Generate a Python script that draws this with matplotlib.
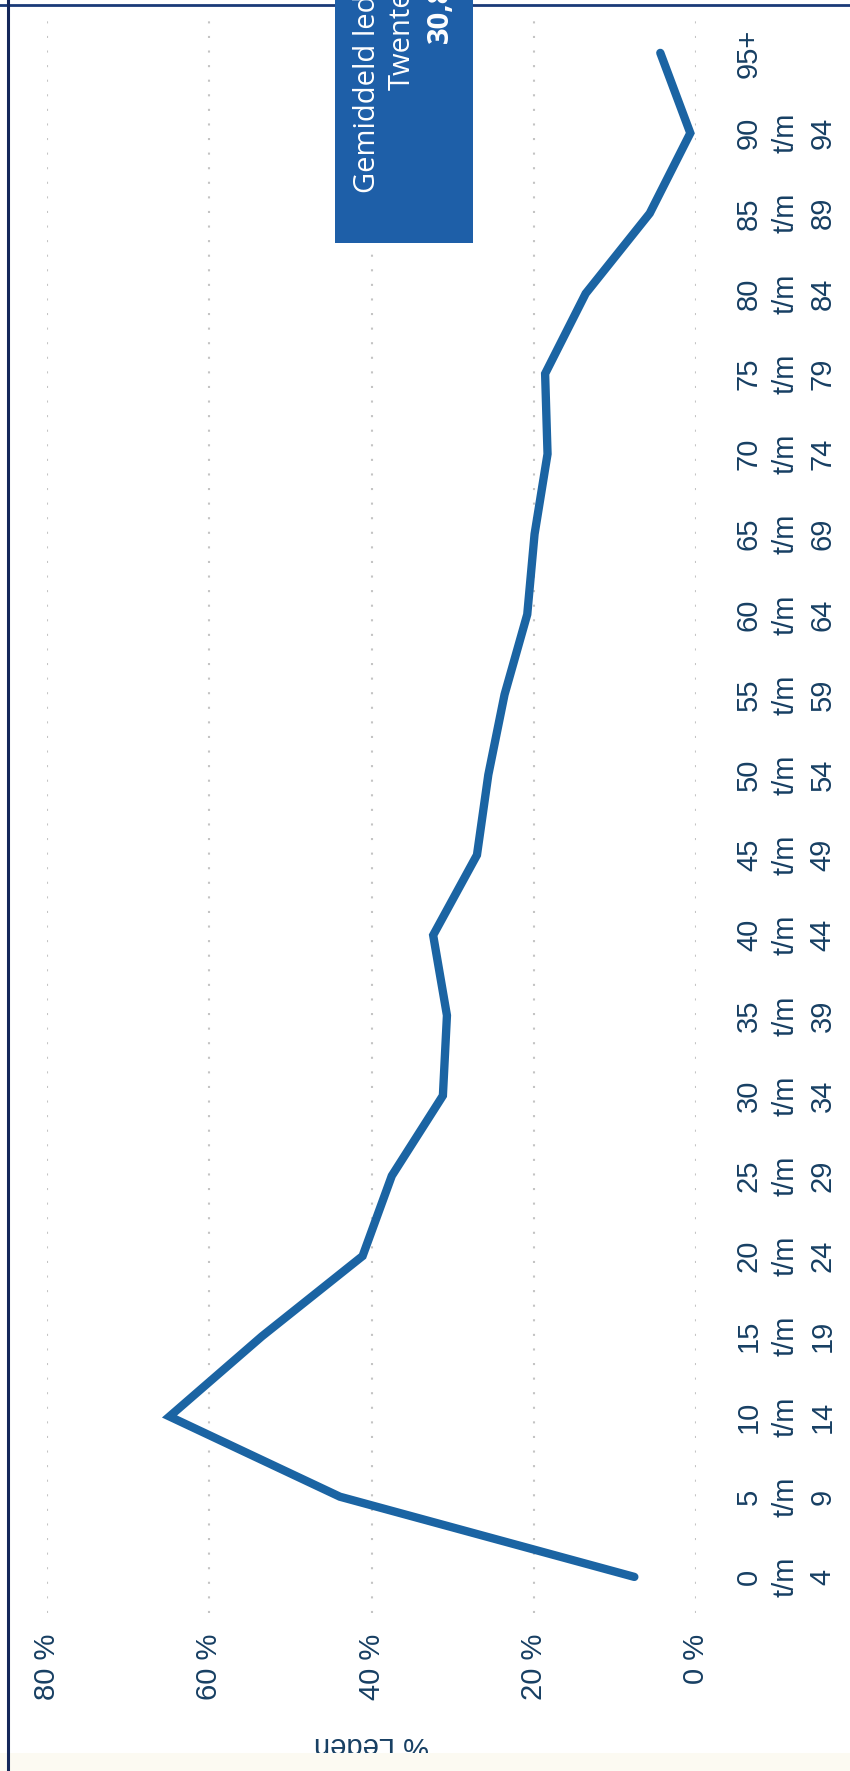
import numpy as np
import matplotlib
matplotlib.use("Agg")
import matplotlib.pyplot as plt
from matplotlib.patches import Rectangle
from matplotlib.lines import Line2D

groepen = ["0\nt/m\n4", "5\nt/m\n9", "10\nt/m\n14", "15\nt/m\n19", "20\nt/m\n24",
           "25\nt/m\n29", "30\nt/m\n34", "35\nt/m\n39", "40\nt/m\n44", "45\nt/m\n49",
           "50\nt/m\n54", "55\nt/m\n59", "60\nt/m\n64", "65\nt/m\n69", "70\nt/m\n74",
           "75\nt/m\n79", "80\nt/m\n84", "85\nt/m\n89", "90\nt/m\n94", "95+"]
leden_pct = [7.6, 43.9, 64.9, 53.5, 41.1, 37.5, 31.2, 30.7, 32.4, 27.0,
             25.6, 23.6, 20.8, 19.9, 18.3, 18.6, 13.6, 5.7, 0.7, 4.4]
pct_ticks = [0, 20, 40, 60, 80]
pct_labels = ["0 %", "20 %", "40 %", "60 %", "80 %"]
box_lines = ["Gemiddeld ledenpercentage", "Twente", "30,8%"]

W, H = 850, 1771
plt.rcParams["font.family"] = ["Liberation Sans", "DejaVu Sans"]
fig = plt.figure(figsize=(W / 100, H / 100), dpi=100)
fig.patch.set_facecolor("white")

tekst = "#173f63"
lijn = "#1b64a3"

# grafiek is een kwartslag gedraaid
ax = fig.add_axes([47 / W, (H - 1613) / H, (696 - 47) / W, (1613 - 20) / H])
pos = np.arange(len(groepen))
ax.plot(leden_pct, pos, color=lijn, lw=6, solid_capstyle="round", solid_joinstyle="miter")

ax.set_xlim(80, 0)
ax.set_ylim(-0.45, 19.41)
for s in ax.spines.values():
    s.set_visible(False)

ax.set_xticks(pct_ticks)
ax.set_xticklabels(pct_labels, rotation=90, fontsize=21, color=tekst)
ax.tick_params(axis="x", length=0, pad=15)

ax.yaxis.tick_right()
ax.set_yticks(pos)
ax.set_yticklabels(groepen, rotation=90, fontsize=21, color=tekst, va="center",
                   multialignment="center", linespacing=1.4)
ax.tick_params(axis="y", length=0, pad=28)

ax.grid(axis="x", color="#c4c4c4", lw=1.5, linestyle=(0, (1, 6)))
ax.set_axisbelow(True)

ax.set_xlabel("% Leden", rotation=180, fontsize=21, color=tekst, labelpad=22)

# blauw kader met gemiddelde (bovenaan afgesneden, net als in de scan)
fig.patches.append(Rectangle((335 / W, (H - 243) / H), 138 / W, 260 / H,
                             transform=fig.transFigure, facecolor="#1e5fa8",
                             edgecolor="none", zorder=5))
starts = [(368, 193, "normal"), (402, 90, "normal"), (440, 43, "bold")]
for (x, y, w), t in zip(starts, box_lines):
    fig.text(x / W, (H - y) / H, t, rotation=90, rotation_mode="anchor",
             ha="left", va="center", color="white", fontsize=21, fontweight=w,
             family=["Open Sans", "DejaVu Sans"], zorder=6)

# kaderlijnen van de scan
fig.add_artist(Line2D([8 / W, 8 / W], [0, 1], transform=fig.transFigure,
                      color="#14275a", lw=2.2))
fig.add_artist(Line2D([0, 1], [(H - 5) / H] * 2, transform=fig.transFigure,
                      color="#1a3a78", lw=2.0, zorder=1))
fig.patches.append(Rectangle((0, 0), 1, 18 / H, transform=fig.transFigure,
                             facecolor="#fcfaf2", edgecolor="none", zorder=0))

fig.savefig("out.png", dpi=100)
